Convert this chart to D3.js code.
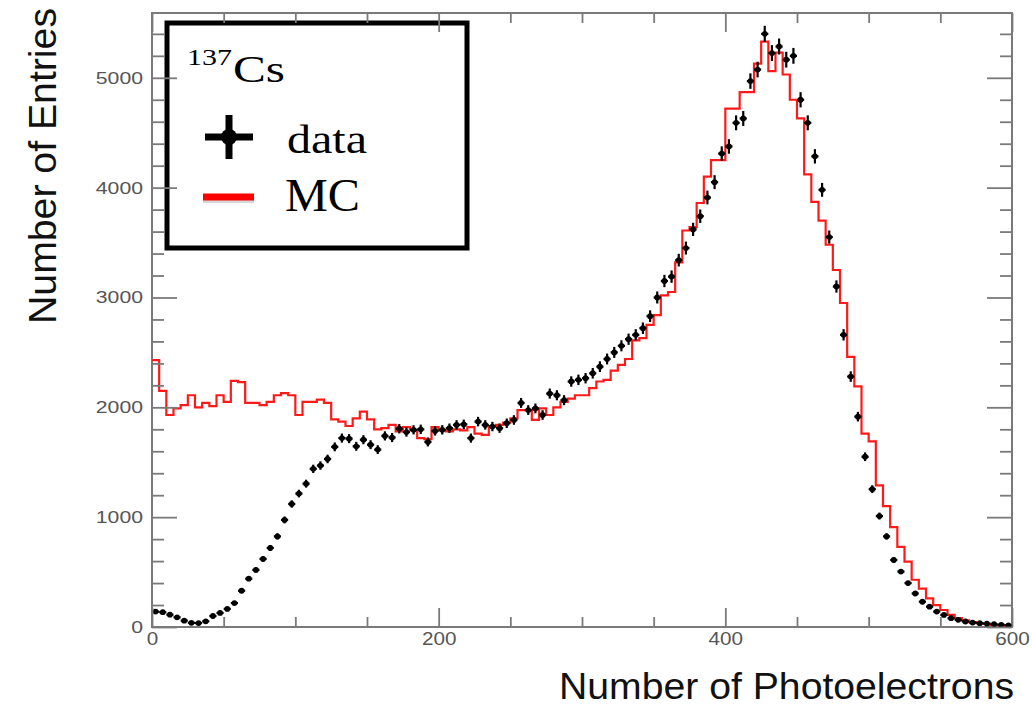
<!DOCTYPE html>
<html>
<head>
<meta charset="utf-8">
<script src="https://cdn.jsdelivr.net/npm/d3@7"></script>
<style>
  html, body { margin: 0; padding: 0; background: #fff; }
  svg { display: block; }
</style>
</head>
<body>
<svg id="chart" width="1032" height="707"></svg>
<script>
// 137Cs photoelectron spectrum: measured data vs. Monte Carlo, 120 bins of 5 p.e.
const binWidth = 5;

const dataCounts = [
  140, 135, 112, 88, 58, 38, 36, 52, 100, 128,
  165, 218, 330, 440, 520, 620, 720, 825, 975, 1120,
  1215, 1305, 1440, 1470, 1530, 1640, 1720, 1715, 1645, 1705,
  1660, 1615, 1740, 1725, 1805, 1775, 1795, 1800, 1685, 1785,
  1795, 1810, 1840, 1845, 1720, 1870, 1840, 1825, 1810, 1855,
  1885, 2040, 1975, 1990, 1930, 2125, 2110, 2065, 2235, 2250,
  2265, 2310, 2370, 2440, 2500, 2560, 2620, 2660, 2720, 2830,
  3000, 3150, 3190, 3340, 3450, 3620, 3740, 3910, 4050, 4310,
  4375, 4590, 4630, 4970, 5075, 5400, 5225, 5285, 5165, 5200,
  4800, 4590, 4285, 3980, 3550, 3100, 2660, 2280, 1915, 1550,
  1255, 1010, 825, 610, 505, 400, 305, 230, 185, 140,
  110, 80, 65, 50, 40, 35, 30, 25, 20, 15
];

const mcCounts = [
  2430, 2150, 1930, 1990, 2020, 2110, 2000, 2040, 2010, 2110,
  2050, 2240, 2230, 2040, 2040, 2020, 2050, 2110, 2130, 2110,
  1930, 2050, 2050, 2070, 2040, 1890, 1870, 1830, 1900, 1960,
  1890, 1800, 1810, 1840, 1780, 1820, 1790, 1720, 1710, 1820,
  1790, 1780, 1800, 1790, 1820, 1760, 1750, 1830, 1840, 1860,
  1900, 1975, 1975, 1885, 1990, 1930, 2000, 2050, 2080, 2110,
  2110, 2175, 2235, 2250, 2335, 2386, 2440, 2610, 2630, 2750,
  2840, 3020, 3050, 3320, 3610, 3640, 3860, 4100, 4250, 4250,
  4720, 4720, 4870, 4870, 5130, 5330, 5060, 5230, 5030, 4800,
  4630, 4120, 3870, 3700, 3480, 3250, 2950, 2460, 2190, 1760,
  1690, 1290, 1100, 910, 730, 595, 430, 350, 260, 200,
  155, 110, 80, 60, 45, 35, 28, 20, 15, 10
];

const xMajorTicks = [0, 200, 400, 600];
const xMinorTicks = [50, 100, 150, 250, 300, 350, 450, 500, 550];
const yMajorTicks = [0, 1000, 2000, 3000, 4000, 5000];
const yMinorTicks = [200, 400, 600, 800, 1200, 1400, 1600, 1800, 2200, 2400, 2600, 2800,
                     3200, 3400, 3600, 3800, 4200, 4400, 4600, 4800, 5200, 5400];

const xTitle = "Number of Photoelectrons";
const yTitle = "Number of Entries";
const legendItems = ["data", "MC"];

// ---- layout ----
const frame = { left: 152, right: 1012, top: 13, bottom: 627 };
const svg = d3.select("#chart");

const x = d3.scaleLinear().domain([0, 600]).range([frame.left, frame.right]);
const y = d3.scaleLinear().domain([0, 5590]).range([frame.bottom, frame.top]);

const axisColor = "#7a7a7a";
const labelColor = "#555";
const plainInt = d3.format("d");

// frame
svg.append("rect")
  .attr("x", frame.left).attr("y", frame.top)
  .attr("width", frame.right - frame.left).attr("height", frame.bottom - frame.top)
  .attr("fill", "none").attr("stroke", axisColor).attr("stroke-width", 2);

const plot = svg.append("g");
plot.append("clipPath").attr("id", "clip")
  .append("rect")
  .attr("x", frame.left).attr("y", frame.top)
  .attr("width", frame.right - frame.left).attr("height", frame.bottom - frame.top);

// ---- MC histogram (step outline) ----
const mcPts = [];
mcCounts.forEach((v, i) => {
  mcPts.push([i * binWidth, v]);
  mcPts.push([(i + 1) * binWidth, v]);
});
const stepLine = d3.line().x(d => x(d[0])).y(d => y(d[1]));
plot.append("path")
  .attr("clip-path", "url(#clip)")
  .attr("d", stepLine(mcPts))
  .attr("fill", "none")
  .attr("stroke", "#ff1a1a")
  .attr("stroke-width", 2.2)
  .attr("stroke-linejoin", "miter");

// ---- data points with error bars ----
const pts = plot.append("g").attr("clip-path", "url(#clip)");
dataCounts.forEach((v, i) => {
  const cx = x(i * binWidth + binWidth / 2);
  const cy = y(v);
  const err = Math.sqrt(v);
  pts.append("line")
    .attr("x1", x(i * binWidth)).attr("x2", x((i + 1) * binWidth))
    .attr("y1", cy).attr("y2", cy)
    .attr("stroke", "#000").attr("stroke-width", 2.2);
  pts.append("line")
    .attr("x1", cx).attr("x2", cx)
    .attr("y1", y(v - err)).attr("y2", y(v + err))
    .attr("stroke", "#000").attr("stroke-width", 2.2);
  pts.append("circle")
    .attr("cx", cx).attr("cy", cy).attr("r", 2.9)
    .attr("fill", "#000");
});

// ---- legend ----
const leg = svg.append("g");
leg.append("rect")
  .attr("x", 167).attr("y", 23).attr("width", 300).attr("height", 225)
  .attr("fill", "#fff").attr("stroke", "#000").attr("stroke-width", 5);

leg.append("text")
  .attr("x", 187).attr("y", 65)
  .attr("font-family", "Liberation Serif, Times New Roman, serif")
  .attr("font-size", 24)
  .attr("textLength", 45).attr("lengthAdjust", "spacingAndGlyphs")
  .text("137");
leg.append("text")
  .attr("x", 233).attr("y", 82)
  .attr("font-family", "Liberation Serif, Times New Roman, serif")
  .attr("font-size", 38)
  .attr("textLength", 52).attr("lengthAdjust", "spacingAndGlyphs")
  .text("Cs");

// data marker
const mk = { x: 229, y: 137 };
leg.append("line").attr("x1", mk.x - 24).attr("x2", mk.x + 24).attr("y1", mk.y).attr("y2", mk.y)
  .attr("stroke", "#000").attr("stroke-width", 7);
leg.append("line").attr("x1", mk.x).attr("x2", mk.x).attr("y1", mk.y - 22).attr("y2", mk.y + 22)
  .attr("stroke", "#000").attr("stroke-width", 7);
leg.append("circle").attr("cx", mk.x).attr("cy", mk.y).attr("r", 8).attr("fill", "#000");

// MC marker
leg.append("line").attr("x1", 203).attr("x2", 254).attr("y1", 200).attr("y2", 200)
  .attr("stroke", "#bbb").attr("stroke-width", 6).attr("opacity", 0.6);
leg.append("line").attr("x1", 203).attr("x2", 254).attr("y1", 197).attr("y2", 197)
  .attr("stroke", "#ff0000").attr("stroke-width", 7);

leg.append("text")
  .attr("x", 287).attr("y", 153)
  .attr("font-family", "Liberation Serif, Times New Roman, serif")
  .attr("font-size", 40)
  .attr("textLength", 80).attr("lengthAdjust", "spacingAndGlyphs")
  .text(legendItems[0]);
leg.append("text")
  .attr("x", 285).attr("y", 211)
  .attr("font-family", "Liberation Serif, Times New Roman, serif")
  .attr("font-size", 46)
  .attr("textLength", 75).attr("lengthAdjust", "spacingAndGlyphs")
  .text(legendItems[1]);

// ---- axes (ticks point inward, mirrored on top/right) ----
function styleAxis(g, withLabels) {
  g.select(".domain").remove();
  g.selectAll(".tick line").attr("stroke", axisColor).attr("stroke-width", 1.8);
  if (!withLabels) g.selectAll(".tick text").remove();
}

const fontSans = "Liberation Sans, Arial, Helvetica, sans-serif";

svg.append("g").attr("transform", `translate(0,${frame.bottom})`)
  .call(d3.axisBottom(x).tickValues(xMinorTicks).tickSizeInner(-10).tickSizeOuter(0))
  .call(g => styleAxis(g, false));
const xAx = svg.append("g").attr("transform", `translate(0,${frame.bottom})`)
  .call(d3.axisBottom(x).tickValues(xMajorTicks).tickFormat(plainInt)
    .tickSizeInner(-19).tickSizeOuter(0).tickPadding(5))
  .call(g => styleAxis(g, true));
xAx.selectAll(".tick text")
  .attr("fill", labelColor).attr("font-family", fontSans).attr("font-size", 19)
  .attr("textLength", function () { return 11.5 * this.textContent.length; })
  .attr("lengthAdjust", "spacingAndGlyphs");

svg.append("g").attr("transform", `translate(0,${frame.top})`)
  .call(d3.axisTop(x).tickValues(xMinorTicks).tickSizeInner(-10).tickSizeOuter(0))
  .call(g => styleAxis(g, false));
svg.append("g").attr("transform", `translate(0,${frame.top})`)
  .call(d3.axisTop(x).tickValues(xMajorTicks).tickSizeInner(-19).tickSizeOuter(0))
  .call(g => styleAxis(g, false));

svg.append("g").attr("transform", `translate(${frame.left},0)`)
  .call(d3.axisLeft(y).tickValues(yMinorTicks).tickSizeInner(-12).tickSizeOuter(0))
  .call(g => styleAxis(g, false));
const yAx = svg.append("g").attr("transform", `translate(${frame.left},0)`)
  .call(d3.axisLeft(y).tickValues(yMajorTicks).tickFormat(plainInt)
    .tickSizeInner(-25).tickSizeOuter(0).tickPadding(9))
  .call(g => styleAxis(g, true));
yAx.selectAll(".tick text")
  .attr("fill", labelColor).attr("font-family", fontSans).attr("font-size", 17)
  .attr("textLength", function () { return 11.8 * this.textContent.length; })
  .attr("lengthAdjust", "spacingAndGlyphs");

svg.append("g").attr("transform", `translate(${frame.right},0)`)
  .call(d3.axisRight(y).tickValues(yMinorTicks).tickSizeInner(-12).tickSizeOuter(0))
  .call(g => styleAxis(g, false));
svg.append("g").attr("transform", `translate(${frame.right},0)`)
  .call(d3.axisRight(y).tickValues(yMajorTicks).tickSizeInner(-25).tickSizeOuter(0))
  .call(g => styleAxis(g, false));

// ---- axis titles ----
svg.append("text")
  .attr("x", 1014).attr("y", 699)
  .attr("text-anchor", "end")
  .attr("font-family", fontSans).attr("font-size", 37).attr("fill", "#111")
  .attr("textLength", 455).attr("lengthAdjust", "spacingAndGlyphs")
  .text(xTitle);

svg.append("text")
  .attr("transform", "translate(56,8) rotate(-90)")
  .attr("text-anchor", "end")
  .attr("font-family", fontSans).attr("font-size", 38).attr("fill", "#111")
  .attr("textLength", 316).attr("lengthAdjust", "spacingAndGlyphs")
  .text(yTitle);
</script>
</body>
</html>
